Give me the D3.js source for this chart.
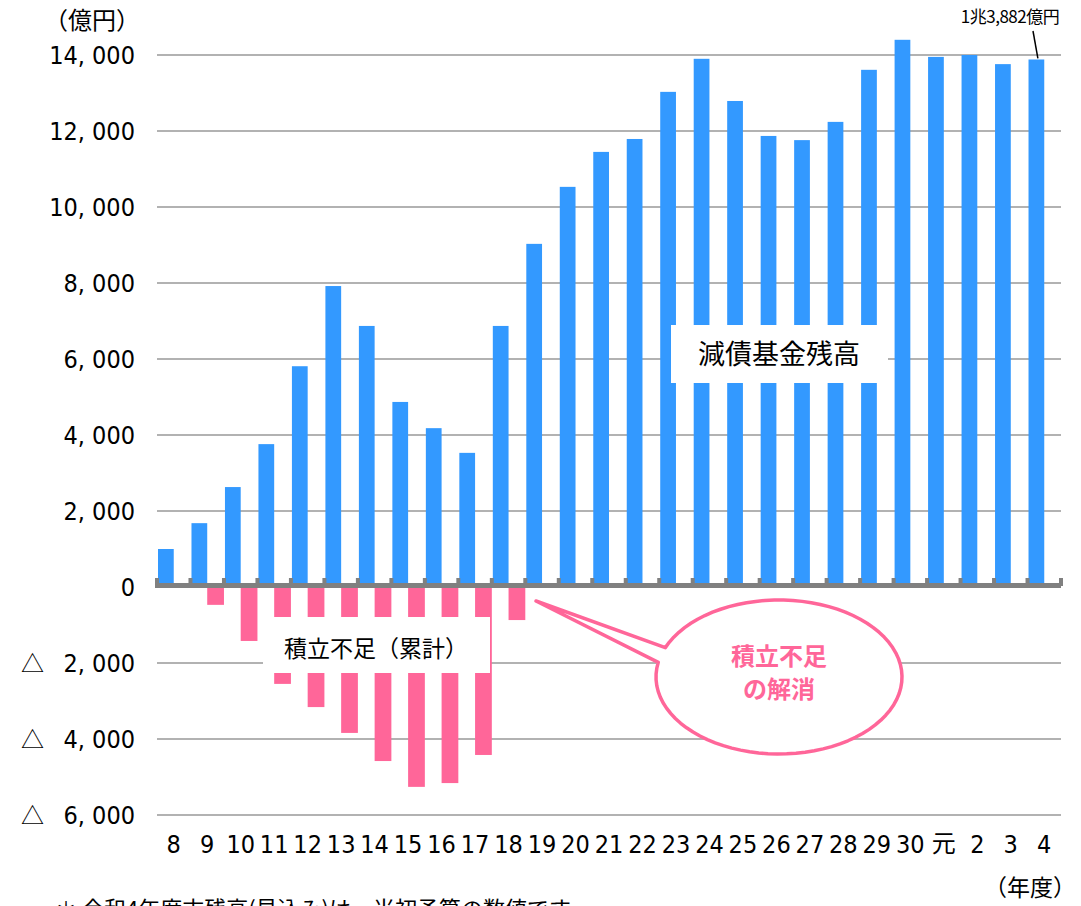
<!DOCTYPE html>
<html>
<head>
<meta charset="utf-8">
<script src="https://cdn.jsdelivr.net/npm/d3@7"></script>
<style>
  body { margin: 0; background: #fff; }
  svg { display: block; }
  .num { font-family: "Liberation Sans Narrow", "DejaVu Sans Condensed", "Noto Sans CJK JP", sans-serif; }
  .jp { font-family: "Noto Sans CJK JP", sans-serif; }
</style>
</head>
<body>
<svg id="chart" width="1081" height="906"></svg>
<script>
// fiscal years (平成8〜30, 令和元〜4)
const years = ['8','9','10','11','12','13','14','15','16','17','18','19','20','21','22',
  '23','24','25','26','27','28','29','30','元','2','3','4'];
// 減債基金残高 (億円)
const fundBalance = [1000, 1680, 2630, 3760, 5810, 7920, 6870, 4870, 4180, 3530, 6870,
  9030, 10530, 11450, 11790, 13030, 13900, 12790, 11870, 11760, 12240, 13610,
  14400, 13950, 14000, 13760, 13882];
// 積立不足(累計) (億円)
const shortfall = [0, -470, -1420, -2550, -3160, -3840, -4580, -5260, -5160, -4420, -870,
  0, 0, 0, 0, 0, 0, 0, 0, 0, 0, 0, 0, 0, 0, 0, 0];
const yTicks = [-6000, -4000, -2000, 0, 2000, 4000, 6000, 8000, 10000, 12000, 14000];

const blue = '#3399FF';
const pink = '#FF6699';

const svg = d3.select('#chart');

const x = d3.scaleBand().domain(years).range([157, 1061]).padding(0);
const half = d3.scaleBand().domain(['fund', 'short']).range([0, x.bandwidth()]).padding(0);
const y = d3.scaleLinear().domain([-6000, 14000]).range([815, 55]);

const fmt = v => d3.format(',')(Math.abs(v)).replace(',', ', ');

// gridlines
svg.append('g')
  .selectAll('line')
  .data(yTicks.filter(d => d !== 0))
  .join('line')
  .attr('x1', 157).attr('x2', 1061)
  .attr('y1', d => y(d)).attr('y2', d => y(d))
  .attr('stroke', '#999').attr('stroke-width', 1.5);

// y tick labels via axis
const yAxis = svg.append('g')
  .attr('transform', 'translate(150,0)')
  .call(d3.axisLeft(y).tickValues(yTicks).tickSize(0).tickPadding(15).tickFormat(fmt));
yAxis.select('.domain').remove();
yAxis.selectAll('text')
  .attr('class', 'num')
  .attr('font-size', 25)
  .attr('fill', '#000');
yAxis.selectAll('.tick').filter(d => d < 0)
  .append('text')
  .attr('class', 'jp')
  .attr('x', -129).attr('dy', '0.35em')
  .attr('font-size', 23)
  .attr('fill', '#000')
  .attr('text-anchor', 'start')
  .text('△');

// bars
const data = years.map((yr, i) => ({ yr, fund: fundBalance[i], short: shortfall[i] }));

svg.append('g')
  .selectAll('rect')
  .data(data)
  .join('rect')
  .attr('x', d => x(d.yr) + half('fund') + 1)
  .attr('width', half.bandwidth() - 1)
  .attr('y', d => y(d.fund))
  .attr('height', d => y(0) - y(d.fund))
  .attr('fill', blue);

svg.append('g')
  .selectAll('rect')
  .data(data.filter(d => d.short < 0))
  .join('rect')
  .attr('x', d => x(d.yr) + half('short'))
  .attr('width', half.bandwidth())
  .attr('y', y(0))
  .attr('height', d => y(d.short) - y(0))
  .attr('fill', pink);

// x axis (thick gray with tick marks at band boundaries)
const bounds = years.map(d => x(d)).concat([x.range()[1]]);
svg.append('g')
  .selectAll('rect')
  .data(bounds)
  .join('rect')
  .attr('x', d => d - 2).attr('y', y(0) - 9)
  .attr('width', 4).attr('height', 8)
  .attr('fill', '#808080');
svg.append('rect')
  .attr('x', 155).attr('y', y(0) - 4)
  .attr('width', 1061 - 155).attr('height', 5)
  .attr('fill', '#808080');

const xAxis = svg.append('g')
  .attr('transform', 'translate(0,815)')
  .call(d3.axisBottom(x).tickSize(0).tickPadding(20));
xAxis.select('.domain').remove();
xAxis.selectAll('text')
  .attr('class', d => d === '元' ? 'jp' : 'num')
  .attr('font-size', d => d === '元' ? 24 : 25)
  .attr('fill', '#000');

// unit labels
svg.append('text').attr('class', 'jp')
  .attr('x', 92).attr('y', 29).attr('text-anchor', 'middle')
  .attr('font-size', 24).text('（億円）');
svg.append('text').attr('class', 'jp')
  .attr('x', 1030).attr('y', 896).attr('text-anchor', 'middle')
  .attr('font-size', 23).text('（年度）');

// note (cut off at the bottom, as in the source)
svg.append('text').attr('class', 'jp')
  .attr('x', 55).attr('y', 917)
  .attr('font-size', 22).text('＊  令和4年度末残高(見込み)は、当初予算の数値です。');

// latest value annotation
const last = data[data.length - 1];
const lastX = x(last.yr) + half('fund') + half.bandwidth() / 2;
svg.append('text').attr('class', 'jp')
  .attr('x', 1010).attr('y', 23).attr('text-anchor', 'middle')
  .attr('font-size', 17).attr('letter-spacing', -0.5)
  .text('1兆3,882億円');
svg.append('line')
  .attr('x1', 1033).attr('y1', 31)
  .attr('x2', lastX + 2).attr('y2', y(last.fund) - 1)
  .attr('stroke', '#000').attr('stroke-width', 1.5);

// series labels
svg.append('rect').attr('x', 671).attr('y', 325).attr('width', 217).attr('height', 58).attr('fill', '#fff');
svg.append('text').attr('class', 'jp')
  .attr('x', 779).attr('y', 364).attr('text-anchor', 'middle')
  .attr('font-size', 27).text('減債基金残高');

svg.append('rect').attr('x', 263).attr('y', 617).attr('width', 227).attr('height', 56).attr('fill', '#fff');
svg.append('text').attr('class', 'jp')
  .attr('x', 376).attr('y', 657).attr('text-anchor', 'middle')
  .attr('font-size', 23).text('積立不足（累計）');

// callout balloon
const cx = 779, cy = 677, rx = 123, ry = 77;
const tip = [536, 601];
const a1 = -2.75, a2 = -2.95;
const balloon = d3.path();
balloon.moveTo(cx + rx * Math.cos(a1), cy + ry * Math.sin(a1));
balloon.lineTo(tip[0], tip[1]);
balloon.lineTo(cx + rx * Math.cos(a2), cy + ry * Math.sin(a2));
const steps = 80;
for (let i = 1; i <= steps; i++) {
  const t = a2 - (2 * Math.PI - (a1 - a2)) * i / steps;
  balloon.lineTo(cx + rx * Math.cos(t), cy + ry * Math.sin(t));
}
balloon.closePath();
svg.append('path')
  .attr('d', balloon.toString())
  .attr('fill', '#fff')
  .attr('stroke', pink)
  .attr('stroke-width', 3.5)
  .attr('stroke-linejoin', 'round');
svg.append('text').attr('class', 'jp')
  .attr('x', cx).attr('y', 665).attr('text-anchor', 'middle')
  .attr('font-size', 24).attr('font-weight', 'bold').attr('fill', pink)
  .text('積立不足');
svg.append('text').attr('class', 'jp')
  .attr('x', cx).attr('y', 698).attr('text-anchor', 'middle')
  .attr('font-size', 24).attr('font-weight', 'bold').attr('fill', pink)
  .text('の解消');
</script>
</body>
</html>
